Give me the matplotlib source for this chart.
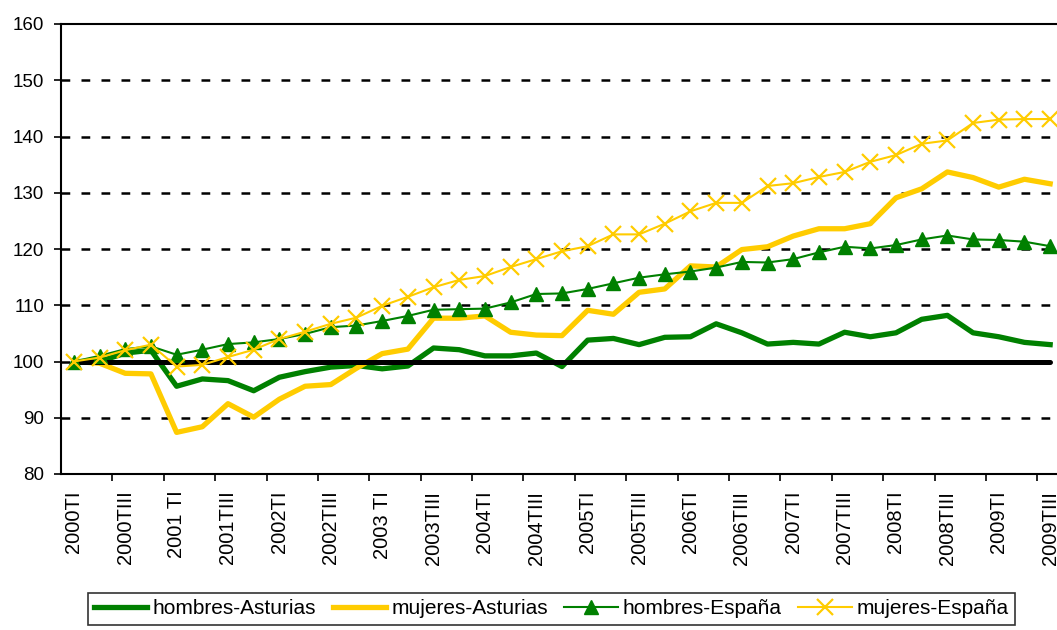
import matplotlib
matplotlib.use("Agg")
from matplotlib import pyplot as plt
import numpy as np

plt.rcParams['font.family'] = ['Liberation Sans', 'DejaVu Sans']

# quarterly index, 2000TI = 100
periods = [f"{y}T{q}" for y in range(2000, 2010) for q in ("I", "II", "III", "IV")][:39]

tick_labels = ["2000TI", "2000TIII", "2001 TI", "2001TIII", "2002TI", "2002TIII",
               "2003 TI", "2003TIII", "2004TI", "2004TIII", "2005TI", "2005TIII",
               "2006TI", "2006TIII", "2007TI", "2007TIII", "2008TI", "2008TIII",
               "2009TI", "2009TIII"]

hombres_asturias = [100, 100, 101.5, 102.0, 95.6, 96.9, 96.6, 94.8, 97.2, 98.2,
                    99.0, 99.3, 98.7, 99.2, 102.4, 102.1, 101.0, 101.0, 101.5, 99.1,
                    103.8, 104.1, 103.0, 104.3, 104.4, 106.7, 105.1, 103.1, 103.4, 103.1,
                    105.2, 104.4, 105.1, 107.5, 108.2, 105.1, 104.4, 103.4, 103.0]
mujeres_asturias = [100, 99.7, 97.9, 97.8, 87.4, 88.4, 92.5, 90.1, 93.3, 95.6,
                    95.9, 98.8, 101.4, 102.2, 107.7, 107.7, 108.1, 105.2, 104.7, 104.6,
                    109.1, 108.4, 112.3, 112.9, 117.0, 116.8, 119.9, 120.4, 122.3, 123.6,
                    123.6, 124.5, 129.1, 130.7, 133.7, 132.7, 131.0, 132.4, 131.6]
hombres_espana = [100, 101.0, 102.2, 102.7, 101.2, 102.1, 103.1, 103.4, 104.0, 104.9,
                  106.1, 106.4, 107.2, 108.1, 109.2, 109.3, 109.4, 110.5, 112.0, 112.1,
                  112.9, 113.9, 114.9, 115.5, 116.0, 116.7, 117.7, 117.6, 118.2, 119.4,
                  120.4, 120.1, 120.7, 121.7, 122.4, 121.7, 121.6, 121.3, 120.5]
mujeres_espana = [100, 100.7, 102.0, 103.0, 99.1, 99.4, 100.8, 102.1, 104.0, 105.3,
                  106.7, 107.8, 109.9, 111.5, 113.2, 114.5, 115.2, 116.8, 118.2, 119.6,
                  120.5, 122.6, 122.6, 124.5, 126.7, 128.2, 128.2, 131.2, 131.7, 132.8,
                  133.7, 135.5, 136.7, 138.7, 139.3, 142.4, 143.0, 143.1, 143.1]
base = [100] * len(periods)

GREEN = "#008000"
YELLOW = "#FFCC00"

fig = plt.figure(figsize=(10.57, 6.30), dpi=100)
W, H = 1057, 630
# plot area runs past the right edge, as in the original screenshot
ax = fig.add_axes([61 / W, 1 - 474 / H, (1063 - 61) / W, 450 / H])

x = np.arange(len(periods))

ax.plot(x, hombres_asturias, color=GREEN, lw=3.8, zorder=3, label="hombres-Asturias",
        solid_joinstyle="round")
ax.plot(x, mujeres_asturias, color=YELLOW, lw=3.8, zorder=3.1, label="mujeres-Asturias",
        solid_joinstyle="round")
ax.plot(x, base, color="black", lw=3.6, zorder=3.5, solid_capstyle="round")
ax.plot(x, hombres_espana, color=GREEN, lw=1.5, marker="^", ms=9.5, zorder=4,
        label="hombres-España")
ax.plot(x, mujeres_espana, color=YELLOW, lw=1.5, marker="x", ms=11, mew=1.6, zorder=5,
        label="mujeres-España")

ax.set_ylim(80, 160)
ax.set_xlim(-0.5, len(periods) - 0.5)
ax.set_yticks(range(80, 161, 10))
for v in range(90, 160, 10):
    ax.axhline(v, color="black", lw=1.8, dashes=(3.5, 4.5), zorder=1)

# tick marks between every two categories, labels on the categories
ax.set_xticks(np.arange(1.5, len(periods), 2))
ax.set_xticklabels([])
ax.set_xticks(np.arange(0, len(periods), 2), minor=True)
ax.set_xticklabels(tick_labels, minor=True, rotation=90, fontsize=14.5)
ax.tick_params(axis="x", which="major", length=5, width=1.2, direction="out")
ax.tick_params(axis="x", which="minor", length=0, pad=12)
ax.tick_params(axis="y", length=5, width=1.2, labelsize=13.5, pad=7)

for s in ax.spines.values():
    s.set_linewidth(1.5)
ax.spines["right"].set_visible(False)

leg = fig.legend(loc="upper left", bbox_to_anchor=(88 / W, 1 - 593 / H), ncol=4,
                 fontsize=15, frameon=True, fancybox=False, edgecolor="black",
                 handlelength=2.55, handletextpad=0.25, columnspacing=0.8,
                 borderpad=0.3, borderaxespad=0)
leg.get_frame().set_linewidth(1.2)

plt.savefig("out.png", dpi=100)
